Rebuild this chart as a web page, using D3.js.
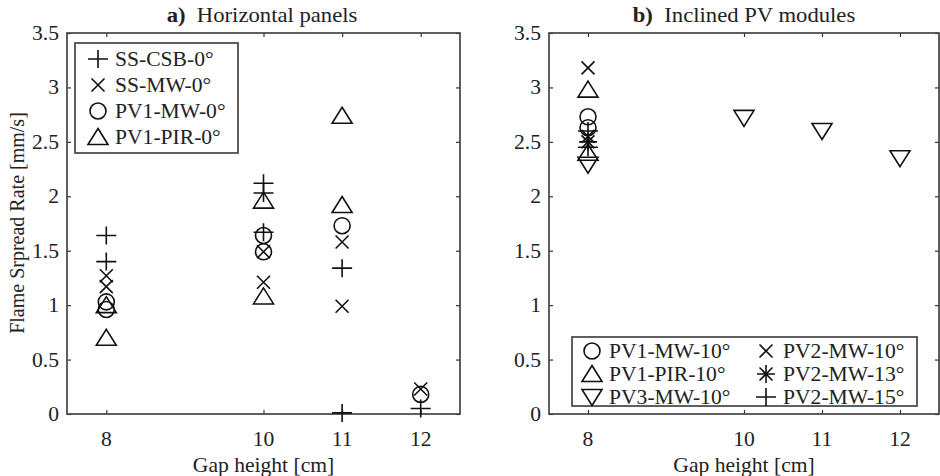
<!DOCTYPE html>
<html>
<head>
<meta charset="utf-8">
<script src="https://cdn.jsdelivr.net/npm/d3@7"></script>
<style>
  body { margin: 0; background: #fff; }
  svg text { font-family: "Liberation Serif", "Times New Roman", serif; fill: #222; font-size: 20px; }
</style>
</head>
<body>
<svg id="chart" width="940" height="476"></svg>
<script>
// x ticks shared by both panels
const gapTicks = [8, 10, 11, 12];
const rateTicks = [0, 0.5, 1, 1.5, 2, 2.5, 3, 3.5];

// panel a) horizontal panels  [gap, rate]
const ssCsb0 = [[8, 1.64], [8, 1.4], [10, 2.12], [10, 2.03], [10, 1.67], [11, 1.34], [11, 0.01], [12, 0.05]];
const ssMw0 = [[8, 1.27], [8, 1.17], [10, 1.49], [10, 1.21], [11, 1.58], [11, 0.99], [12, 0.23]];
const pv1Mw0 = [[8, 1.03], [8, 0.96], [10, 1.64], [10, 1.49], [11, 1.73], [12, 0.18]];
const pv1Pir0 = [[8, 1.0], [8, 0.7], [10, 1.96], [10, 1.08], [11, 2.74], [11, 1.92]];

// panel b) inclined PV modules
const pv1Mw10 = [[8, 2.73], [8, 2.63]];
const pv1Pir10 = [[8, 2.98], [8, 2.4]];
const pv3Mw10 = [[8, 2.29], [10, 2.72], [11, 2.6], [12, 2.35]];
const pv2Mw10 = [[8, 3.18], [8, 2.55]];
const pv2Mw13 = [[8, 2.5]];
const pv2Mw15 = [[8, 2.6], [8, 2.45]];

const svg = d3.select("#chart");
const stretch = 1.08; // the source figure is a bit wider than tall

// text that is stretched horizontally like the original
function label(sel, x, y, txt, anchor) {
  return sel.append("text")
    .attr("transform", `translate(${x},${y}) scale(${stretch},1)`)
    .attr("text-anchor", anchor || "start")
    .text(txt);
}

// marker shapes, centred on 0,0
function markerPath(type) {
  const p = d3.path();
  if (type === "plus") {
    p.moveTo(-10, 0); p.lineTo(10, 0); p.moveTo(0, -9); p.lineTo(0, 9);
  } else if (type === "x") {
    p.moveTo(-6.5, -6.5); p.lineTo(6.5, 6.5); p.moveTo(-6.5, 6.5); p.lineTo(6.5, -6.5);
  } else if (type === "circle") {
    p.arc(0, 0, 8, 0, 2 * Math.PI);
  } else if (type === "tri") {
    p.moveTo(0, -8.5); p.lineTo(10, 7.5); p.lineTo(-10, 7.5); p.closePath();
  } else if (type === "triDown") {
    p.moveTo(0, 8.5); p.lineTo(10, -7.5); p.lineTo(-10, -7.5); p.closePath();
  } else if (type === "star") {
    p.moveTo(-9, 0); p.lineTo(9, 0); p.moveTo(0, -9); p.lineTo(0, 9);
    p.moveTo(-6.5, -6.5); p.lineTo(6.5, 6.5); p.moveTo(-6.5, 6.5); p.lineTo(6.5, -6.5);
  }
  return p.toString();
}

function drawPanel(cfg) {
  const x = d3.scaleLinear().domain([7.5, 12.5]).range([cfg.left, cfg.right]);
  const y = d3.scaleLinear().domain([0, 3.5]).range([414, 33]);

  const g = svg.append("g");

  // inner ticks on all four sides
  g.append("g").attr("transform", "translate(0,414)")
    .call(d3.axisBottom(x).tickValues(gapTicks).tickSize(-4).tickFormat(""));
  g.append("g").attr("transform", "translate(0,33)")
    .call(d3.axisTop(x).tickValues(gapTicks).tickSize(-4).tickFormat(""));
  g.append("g").attr("transform", `translate(${cfg.left},0)`)
    .call(d3.axisLeft(y).tickValues(rateTicks).tickSize(-4).tickFormat(""));
  g.append("g").attr("transform", `translate(${cfg.right},0)`)
    .call(d3.axisRight(y).tickValues(rateTicks).tickSize(-4).tickFormat(""));
  g.selectAll(".domain").remove();
  g.selectAll(".tick line").attr("stroke", "#333").attr("stroke-width", 1.2);

  g.append("rect")
    .attr("x", cfg.left).attr("y", 33)
    .attr("width", cfg.right - cfg.left).attr("height", 414 - 33)
    .attr("fill", "none").attr("stroke", "#444").attr("stroke-width", 1.7);

  // tick labels
  gapTicks.forEach(d => label(g, x(d), 446, d, "middle"));
  rateTicks.forEach(d => label(g, cfg.left - 8, y(d) + 7, d, "end"));

  label(g, x(10), 472, "Gap height [cm]", "middle");

  const title = label(g, cfg.titleX, 22, "", "middle").style("font-size", "21px");
  title.append("tspan").style("font-weight", "bold").text(cfg.letter + ")");
  title.append("tspan").text("\u00a0 " + cfg.title);

  // data markers
  cfg.series.forEach(s => {
    g.selectAll(null).data(s.pts).enter().append("path")
      .attr("d", markerPath(s.shape))
      .attr("transform", d => `translate(${x(d[0])},${y(d[1])})`)
      .attr("fill", "none").attr("stroke", "#111").attr("stroke-width", 1.6);
  });

  // legend
  const lg = cfg.legend;
  g.append("rect").attr("x", lg.x).attr("y", lg.y).attr("width", lg.w).attr("height", lg.h)
    .attr("fill", "#fff").attr("stroke", "#444").attr("stroke-width", 1.7);
  cfg.series.forEach((s, i) => {
    const col = Math.floor(i / lg.rows), row = i % lg.rows;
    const mx = lg.x + lg.mx + col * lg.colW;
    const my = lg.y + lg.top + row * lg.rowH;
    g.append("path").attr("d", markerPath(s.shape))
      .attr("transform", `translate(${mx},${my})`)
      .attr("fill", "none").attr("stroke", "#111").attr("stroke-width", 1.6);
    label(g, mx + 17, my + 7, s.name);
  });
}

drawPanel({
  left: 67, right: 460, titleX: 262, letter: "a", title: "Horizontal panels",
  series: [
    { name: "SS-CSB-0°", shape: "plus", pts: ssCsb0 },
    { name: "SS-MW-0°", shape: "x", pts: ssMw0 },
    { name: "PV1-MW-0°", shape: "circle", pts: pv1Mw0 },
    { name: "PV1-PIR-0°", shape: "tri", pts: pv1Pir0 }
  ],
  legend: { x: 75, y: 43, w: 163, h: 110, rows: 4, colW: 0, mx: 23, top: 16, rowH: 26 }
});

drawPanel({
  left: 549, right: 939, titleX: 744, letter: "b", title: "Inclined PV modules",
  series: [
    { name: "PV1-MW-10°", shape: "circle", pts: pv1Mw10 },
    { name: "PV1-PIR-10°", shape: "tri", pts: pv1Pir10 },
    { name: "PV3-MW-10°", shape: "triDown", pts: pv3Mw10 },
    { name: "PV2-MW-10°", shape: "x", pts: pv2Mw10 },
    { name: "PV2-MW-13°", shape: "star", pts: pv2Mw13 },
    { name: "PV2-MW-15°", shape: "plus", pts: pv2Mw15 }
  ],
  legend: { x: 572, y: 337, w: 345, h: 69, rows: 3, colW: 174, mx: 20, top: 14, rowH: 23 }
});

// shared y-axis title
svg.append("text").attr("transform", "translate(24,223) rotate(-90)")
  .attr("text-anchor", "middle").text("Flame Srpread Rate [mm/s]");
</script>
</body>
</html>
